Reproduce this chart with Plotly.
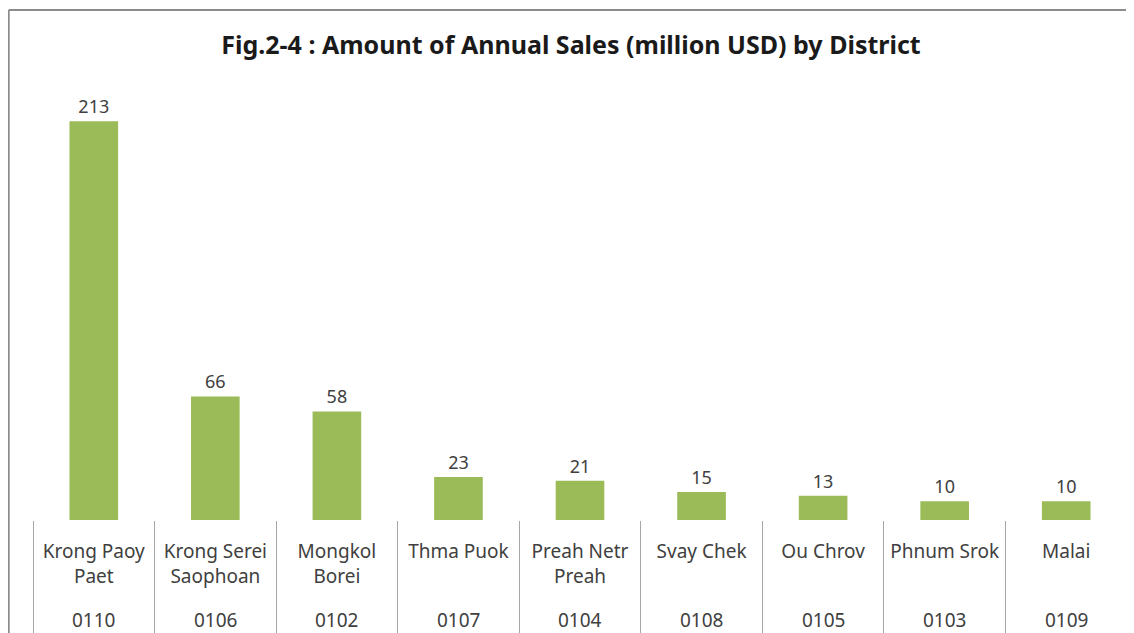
import plotly.graph_objects as go

districts = ["Krong Paoy<br>Paet", "Krong Serei<br>Saophoan", "Mongkol<br>Borei", "Thma Puok",
             "Preah Netr<br>Preah", "Svay Chek", "Ou Chrov", "Phnum Srok", "Malai"]
codes = ["0110", "0106", "0102", "0107", "0104", "0108", "0105", "0103", "0109"]
sales = [213, 66, 58, 23, 21, 15, 13, 10, 10]

bar_color = "#9BBB59"
text_color = "#404040"
font_family = "Noto Sans"

fig = go.Figure()

fig.add_trace(
    go.Bar(
        x=codes,
        y=sales,
        width=0.4,
        marker=dict(color=bar_color, line=dict(width=0)),
        text=sales,
        textposition="outside",
        textfont=dict(size=18, color=text_color, family=font_family),
        cliponaxis=False,
    )
)

# district codes under the names (category index i on the x axis)
for i, c in enumerate(codes):
    fig.add_annotation(
        x=i, y=0, xref="x", yref="paper",
        yshift=-115, text=c, showarrow=False,
        font=dict(size=19, color=text_color, family=font_family),
    )

# chart frame (left + top border)
fig.add_shape(type="line", xref="paper", yref="paper",
              x0=-0.0222, x1=-0.0222, y0=-0.3, y1=1.159,
              line=dict(color="#8c8c8c", width=2))
fig.add_shape(type="line", xref="paper", yref="paper",
              x0=-0.0222, x1=1.01, y0=1.159, y1=1.159,
              line=dict(color="#8c8c8c", width=2))

# page body adds an 8px offset, so the figure is sized to the visible window
fig.update_layout(
    width=1126,
    height=625,
    margin=dict(l=25, r=7, t=72, b=113, autoexpand=False),
    paper_bgcolor="white",
    plot_bgcolor="white",
    showlegend=False,
    title=dict(
        text="<b>Fig.2-4 : Amount of Annual Sales (million USD) by District</b>",
        x=0.5, xanchor="center", y=0.941, yanchor="middle",
        font=dict(size=25, color="#1a1a1a", family=font_family),
    ),
    xaxis=dict(
        type="category",
        range=[-0.5, len(codes) - 0.5],
        tickmode="array",
        tickvals=codes,
        ticktext=districts,
        tickangle=0,
        ticks="outside",
        tickson="boundaries",
        ticklen=113,
        tickcolor="#a6a6a6",
        tickwidth=1,
        ticklabelstandoff=18,
        tickfont=dict(size=19, color=text_color, family=font_family),
        showline=False,
        showgrid=False,
        zeroline=False,
    ),
    yaxis=dict(
        range=[0, 235],
        visible=False,
        showgrid=False,
        zeroline=False,
    ),
)

fig.write_html("out.html")
